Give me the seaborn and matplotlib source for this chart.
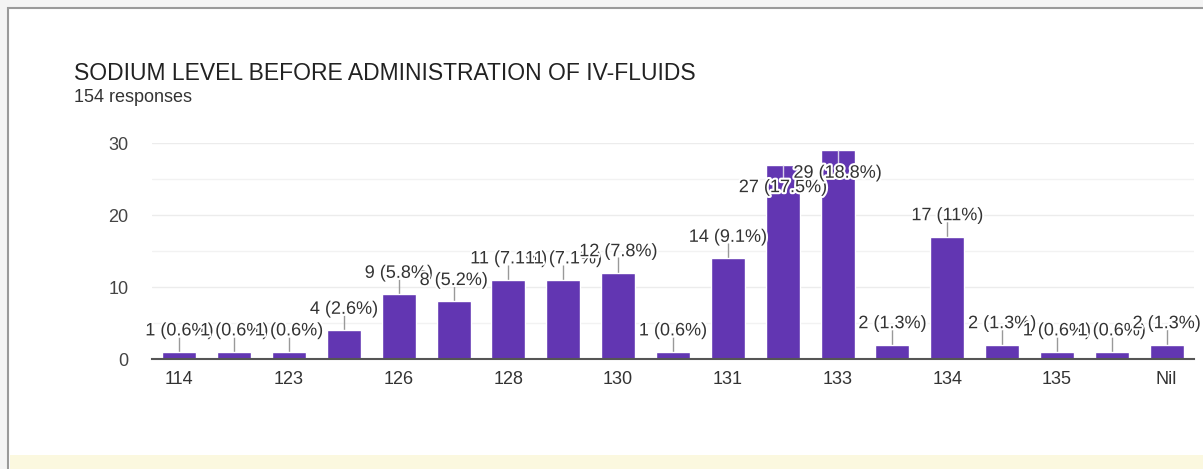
import matplotlib
matplotlib.use("Agg")
import matplotlib.pyplot as plt
import matplotlib.patheffects as pe
from matplotlib.patches import Rectangle
import seaborn as sns
import pandas as pd

# data (only every other category label is visible)
levels = ['114', '120', '123', '125', '126', '127', '128', '129', '130', '130.5',
          '131', '132', '133', '133.5', '134', '134.5', '135', '136', 'Nil']
counts = [1, 1, 1, 4, 9, 8, 11, 11, 12, 1, 14, 27, 29, 2, 17, 2, 1, 1, 2]
total = 154
title = "SODIUM LEVEL BEFORE ADMINISTRATION OF IV-FLUIDS"
subtitle = f"{total} responses"

df = pd.DataFrame({"level": levels, "count": counts})

sns.set_style("white")
plt.rcParams['font.family'] = ['Liberation Sans', 'DejaVu Sans']

fig = plt.figure(figsize=(12.03, 4.69), dpi=100)
fig.patch.set_facecolor('#f4f4f4')
# white card with grey border
fig.patches.append(Rectangle((8 / 1203, -0.05), 1.2, 1 - 8 / 469 + 0.05,
                             transform=fig.transFigure, facecolor='white',
                             edgecolor='#9a9a9a', linewidth=1.5, zorder=-2))
# pale yellow strip of the next section at the bottom
fig.patches.append(Rectangle((10 / 1203, 0), 1, 14 / 469, transform=fig.transFigure,
                             facecolor='#fbf8df', edgecolor='none', zorder=-1))

ax = fig.add_axes([152 / 1203, 1 - 359 / 469, (1194 - 152) / 1203, (359 - 143) / 469])
ax.set_zorder(1)
ax.set_facecolor('white')

sns.barplot(data=df, x="level", y="count", order=levels, color='#6236b2',
            saturation=1, width=0.62, ax=ax, zorder=3)

ax.set_ylim(0, 30)
ax.set_xlim(-0.5, len(levels) - 0.5)
ax.set_yticks([0, 10, 20, 30])
ax.set_yticks([5, 15, 25], minor=True)
ax.yaxis.grid(True, which='major', color='#ececec', linewidth=1, zorder=0)
ax.yaxis.grid(True, which='minor', color='#f2f2f2', linewidth=1, zorder=0)
ax.set_axisbelow(True)
ax.tick_params(axis='y', which='both', length=0, labelsize=13, labelcolor='#444444', pad=17)
ax.set_xticks(range(0, len(levels), 2))
ax.set_xticklabels(levels[::2])
ax.tick_params(axis='x', length=0, labelsize=13, labelcolor='#333333', pad=9)
ax.set_xlabel("")
ax.set_ylabel("")
for s in ['top', 'right', 'left']:
    ax.spines[s].set_visible(False)
ax.spines['bottom'].set_color('#555555')
ax.spines['bottom'].set_linewidth(1.5)
ax.spines['bottom'].set_zorder(4)

halo = [pe.withStroke(linewidth=3, foreground='white')]
for i, c in enumerate(counts):
    pct = f"{round(c / total * 100, 1):g}"
    lab = f"{c} ({pct}%)"
    if c > 25:
        # the tallest bars carry their label inside, as in the original
        ty = c - 3.2
        ax.vlines(i, ty + 1.0, c, color='#d8d0ea', linewidth=1, zorder=4)
    else:
        ty = c + 2.9
        ax.vlines(i, c, c + 2.1, color='#999999', linewidth=1, zorder=2)
    ax.text(i, ty, lab, ha='center', va='center', fontsize=13, color='#333333',
            zorder=6, path_effects=halo, clip_on=False)

fig.text(74 / 1203, 1 - 73 / 469, title, fontsize=16.5, color='#222222', va='center')
fig.text(74 / 1203, 1 - 98 / 469, subtitle, fontsize=13, color='#333333', va='center')

fig.savefig("out.png", dpi=100)
